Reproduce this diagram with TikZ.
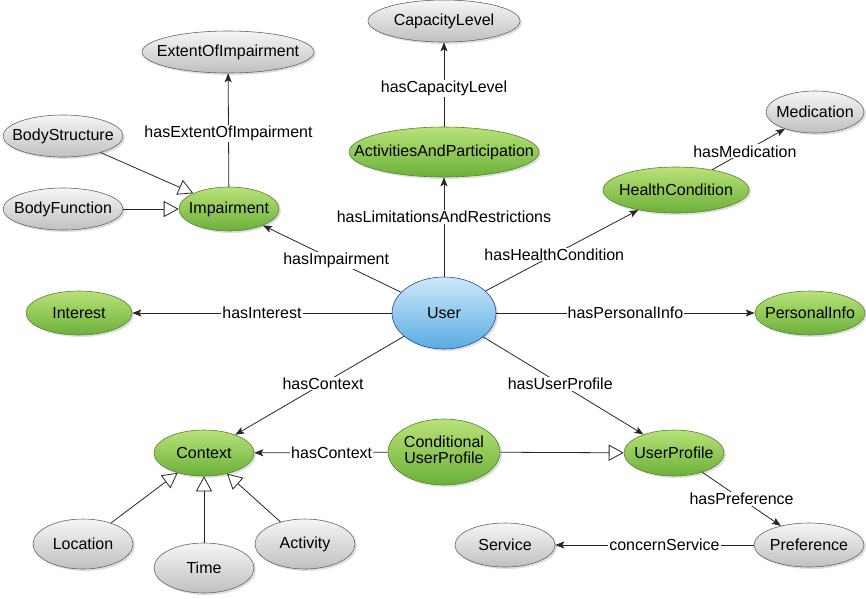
\documentclass[tikz,border=0pt]{standalone}
\usepackage{fontspec}
\setmainfont{Liberation Sans}
\usetikzlibrary{shapes.geometric,arrows.meta,shadows}
\definecolor{gtop}{RGB}{184,226,120}
\definecolor{gbot}{RGB}{108,176,58}
\definecolor{gborder}{RGB}{90,130,50}
\definecolor{ytop}{RGB}{246,246,246}
\definecolor{ybot}{RGB}{192,192,192}
\definecolor{yborder}{RGB}{100,100,100}
\definecolor{btop}{RGB}{206,232,248}
\definecolor{bbot}{RGB}{88,172,226}
\definecolor{bborder}{RGB}{40,70,160}
\newcommand{\Tx}[1]{\makebox[0pt]{#1}}
\tikzset{
  base/.style={ellipse, inner sep=0pt, font=\fontsize{16}{18}\selectfont, align=center,
    drop shadow={opacity=0.25, shadow xshift=2pt, shadow yshift=-2pt}, line width=0.6pt},
  green/.style={base, draw=gborder, top color=gtop, bottom color=gbot},
  grey/.style={base, draw=yborder, top color=ytop, bottom color=ybot},
  blue/.style={base, draw=bborder, top color=btop, bottom color=bbot},
  rel/.style={draw=black!85, line width=0.8pt, -{Stealth[length=9pt,width=7pt,inset=2pt]}},
  isa/.style={draw=black!85, line width=0.8pt, -{Triangle[open,length=15pt,width=16pt,fill=white]}},
  lbl/.style={fill=white, inner sep=1pt, font=\fontsize{16}{18}\selectfont}
}
\begin{document}
\begin{tikzpicture}[x=1pt,y=-1pt]
\useasboundingbox (0,0) rectangle (866,598);
% nodes
\node[grey, minimum width=152, minimum height=42] (cap) at (444,21) {\Tx{CapacityLevel}};
\node[grey, minimum width=172, minimum height=42] (ext) at (228,52) {\Tx{ExtentOfImpairment}};
\node[grey, minimum width=120, minimum height=42] (bs) at (63,136) {\Tx{BodyStructure}};
\node[grey, minimum width=120, minimum height=42] (bf) at (63,209) {\Tx{BodyFunction}};
\node[green, minimum width=100, minimum height=44] (imp) at (229,209) {\Tx{Impairment}};
\node[green, minimum width=190, minimum height=50] (ap) at (444,152) {\Tx{ActivitiesAndParticipation}};
\node[grey, minimum width=98, minimum height=42] (med) at (815,112) {\Tx{Medication}};
\node[green, minimum width=146, minimum height=46] (hc) at (676,190) {\Tx{HealthCondition}};
\node[blue, minimum width=104, minimum height=72] (user) at (444,313) {\Tx{User}};
\node[green, minimum width=106, minimum height=44] (int) at (79,313) {\Tx{Interest}};
\node[green, minimum width=110, minimum height=44] (pi) at (810,313) {\Tx{PersonalInfo}};
\node[green, minimum width=100, minimum height=46] (ctx) at (204,453) {\Tx{Context}};
\node[green, minimum width=112, minimum height=66] (cup) at (444,452) {\Tx{\begin{tabular}{@{}c@{}}Conditional\\[-2pt]UserProfile\end{tabular}}};
\node[green, minimum width=100, minimum height=46] (up) at (674,453) {\Tx{UserProfile}};
\node[grey, minimum width=100, minimum height=50] (loc) at (83,544) {\Tx{Location}};
\node[grey, minimum width=100, minimum height=50] (time) at (204,568) {\Tx{Time}};
\node[grey, minimum width=100, minimum height=50] (act) at (305,544) {\Tx{Activity}};
\node[grey, minimum width=100, minimum height=44] (svc) at (505,545) {\Tx{Service}};
\node[grey, minimum width=110, minimum height=44] (pref) at (809,545) {\Tx{Preference}};
% relations
\draw[rel] (imp) -- node[lbl, pos=0.47] {hasExtentOfImpairment} (ext);
\draw[rel] (ap) -- node[lbl, pos=0.45] {hasCapacityLevel} (cap);
\draw[rel] (user) -- node[lbl, pos=0.6] {hasLimitationsAndRestrictions} (ap);
\draw[rel] (user) -- node[lbl, pos=0.47] {hasImpairment} (imp);
\draw[rel] (user) -- node[lbl, pos=0.45] {hasHealthCondition} (hc);
\draw[rel] (hc) -- node[lbl, pos=0.45] {hasMedication} (med);
\draw[rel] (user) -- node[lbl] {hasInterest} (int);
\draw[rel] (user) -- node[lbl] {hasPersonalInfo} (pi);
\draw[rel] (user) -- node[lbl, pos=0.48] {hasContext} (ctx);
\draw[rel] (user) -- node[lbl, pos=0.48] {hasUserProfile} (up);
\draw[rel] (cup) -- node[lbl, pos=0.42] {hasContext} (ctx);
\draw[rel] (up) -- node[lbl, pos=0.5] {hasPreference} (pref);
\draw[rel] (pref) -- node[lbl, pos=0.45] {concernService} (svc);
% generalisations
\draw[isa] (bs) -- (imp);
\draw[isa] (bf) -- (imp);
\draw[isa] (cup) -- (up);
\draw[isa] (loc) -- (ctx);
\draw[isa] (time) -- (ctx);
\draw[isa] (act) -- (ctx);
\end{tikzpicture}
\end{document}
